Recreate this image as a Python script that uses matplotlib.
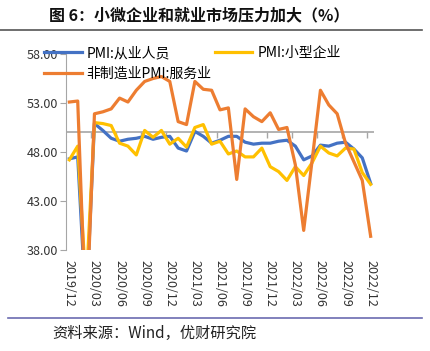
import numpy as np
import matplotlib.pyplot as plt
from matplotlib.lines import Line2D

plt.rcParams["font.family"] = ["Noto Sans CJK SC", "DejaVu Sans"]

# 月度数据 2019/12 - 2022/12
months = [f"{y}/{m:02d}" for y in range(2019, 2023) for m in range(1, 13)][11:]
employment = [47.3, 47.5, 31.8, 50.9, 50.2, 49.4, 49.1, 49.3, 49.4, 49.6, 49.3, 49.5,
              49.6, 48.4, 48.1, 50.1, 49.6, 48.9, 49.2, 49.6, 49.6, 49.0, 48.8, 48.9,
              48.9, 49.1, 49.2, 48.6, 47.2, 47.6, 48.7, 48.6, 48.9, 49.0, 48.3, 47.4,
              44.8]
small_firms = [47.2, 48.6, 34.1, 51.0, 50.9, 50.7, 48.9, 48.6, 47.7, 50.2, 49.5, 50.2,
               48.8, 49.4, 48.5, 50.5, 50.8, 48.8, 49.1, 47.8, 48.1, 47.5, 47.5, 48.4,
               46.5, 46.0, 45.1, 46.5, 45.6, 46.9, 48.6, 47.9, 47.6, 48.4, 48.3, 45.9,
               44.7]
services = [53.1, 53.2, 30.1, 51.9, 52.1, 52.4, 53.5, 53.1, 54.3, 55.2, 55.5, 55.7,
            55.2, 51.1, 50.8, 55.2, 54.4, 54.3, 52.3, 52.5, 45.2, 52.4, 51.6, 51.1,
            52.0, 50.3, 50.5, 46.7, 40.0, 47.1, 54.3, 52.8, 51.9, 48.9, 47.0, 45.1,
            39.4]
yticks = [38, 43, 48, 53, 58]

x = np.arange(len(months))

fig = plt.figure(figsize=(4.31, 3.51), dpi=100)
ax = fig.add_axes([66/431, 1-250/351, 308/431, 196/351])

ax.axhline(50, color="#a6a6a6", lw=1.2, zorder=1)
ax.vlines(np.arange(3, 37, 3) - 0.4, 49.4, 50, color="#a6a6a6", lw=1.0, zorder=1)

kw = dict(lw=2.3, solid_joinstyle="round", zorder=3)
l1, = ax.plot(x, employment, color="#4472C4", label="PMI:从业人员", **kw)
l3, = ax.plot(x, services, color="#ED7D31", label="非制造业PMI:服务业", **kw)
l2, = ax.plot(x, small_firms, color="#FFC000", label="PMI:小型企业", **kw)
# 服务业线在最上层
l3.set_zorder(4)

ax.set_xlim(-0.4, 36.4)
ax.set_ylim(38, 58)
ax.set_yticks(yticks)
ax.set_yticklabels([f"{v:.2f}" for v in yticks])
ax.set_xticks(x[::3])
ax.set_xticklabels(months[::3], rotation=270, va="top", ha="center")

for s in ["top", "right", "bottom"]:
    ax.spines[s].set_visible(False)
ax.spines["left"].set_color("#a6a6a6")
ax.tick_params(axis="y", length=4, color="#a6a6a6", labelsize=9, labelcolor="#333333", pad=2)
ax.tick_params(axis="x", length=0, labelsize=9, labelcolor="#333333", pad=7)

fig.legend(handles=[l1, l3, l2], labels=[h.get_label() for h in [l1, l3, l2]],
           ncol=2, loc="upper left", bbox_to_anchor=(44/431, 1-46/351),
           frameon=False, fontsize=10, handlelength=2.7, handletextpad=0.35,
           columnspacing=0.25, labelspacing=0.5, borderpad=0, borderaxespad=0)

fig.text(199/431, 1-15/351, "图 6：小微企业和就业市场压力加大（%）", ha="center", va="center",
         fontsize=11.5, fontweight="bold", color="#111111")
fig.add_artist(Line2D([0, 422/431], [1-30/351]*2, transform=fig.transFigure,
                      color="#555555", lw=1.2))
fig.add_artist(Line2D([8/431, 422/431], [1-318/351]*2, transform=fig.transFigure,
                      color="#6b6bb0", lw=1.2))
fig.text(52/431, 1-333/351, "资料来源：Wind，优财研究院", ha="left", va="center",
         fontsize=11, color="#222222")

fig.savefig("out.png", dpi=100)
